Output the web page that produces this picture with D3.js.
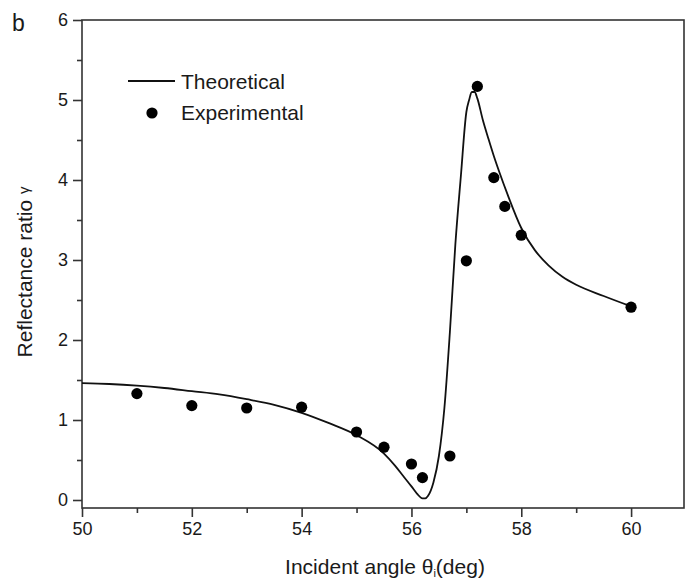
<!DOCTYPE html>
<html>
<head>
<meta charset="utf-8">
<script src="https://cdn.jsdelivr.net/npm/d3@7"></script>
<style>
  body { margin: 0; background: #fff; }
  svg text { font-family: "Liberation Sans", Arial, sans-serif; fill: #1a1a1a; }
</style>
</head>
<body>
<div id="main"></div>
<script>
// theoretical curve
var theoryAngle = [50, 50.5, 51, 51.5, 52, 52.5, 53, 53.5, 54, 54.5, 55, 55.5, 55.7, 55.85, 56.0, 56.1, 56.2, 56.25, 56.3, 56.4, 56.5, 56.6, 56.7, 56.8, 56.9, 57.0, 57.05, 57.1, 57.15, 57.2, 57.3, 57.4, 57.5, 57.6, 57.75, 58.0, 58.25, 58.5, 58.75, 59.0, 59.5, 60.0];
var theoryRatio = [1.46, 1.45, 1.43, 1.40, 1.36, 1.32, 1.26, 1.19, 1.09, 0.96, 0.81, 0.58, 0.43, 0.30, 0.17, 0.08, 0.02, 0.02, 0.05, 0.22, 0.55, 1.15, 2.1, 3.2, 4.05, 4.85, 5.0, 5.1, 5.1, 5.02, 4.75, 4.52, 4.3, 4.1, 3.82, 3.4, 3.12, 2.93, 2.79, 2.69, 2.55, 2.42];

// measured points
var expAngle = [51, 52, 53, 54, 55, 55.5, 56, 56.2, 56.7, 57, 57.2, 57.5, 57.7, 58, 60];
var expRatio = [1.33, 1.18, 1.15, 1.16, 0.85, 0.66, 0.45, 0.28, 0.55, 2.99, 5.17, 4.03, 3.67, 3.31, 2.41];

var xTicks = [50, 52, 54, 56, 58, 60];
var xMinor = [51, 53, 55, 57, 59];
var yTicks = [0, 1, 2, 3, 4, 5, 6];
var yMinor = [0.5, 1.5, 2.5, 3.5, 4.5, 5.5];

var width = 690, height = 582;
var plotLeft = 82, plotRight = 684, plotTop = 20, plotBottom = 508;

var svg = d3.select("#main").append("svg")
    .attr("width", width)
    .attr("height", height);

var x = d3.scaleLinear().domain([50, 61]).range([plotLeft, 686]);
var y = d3.scaleLinear().domain([-0.1, 6]).range([plotBottom, plotTop]);

var axisColor = "#333";

// frame
svg.append("rect")
    .attr("x", plotLeft).attr("y", plotTop)
    .attr("width", plotRight - plotLeft).attr("height", plotBottom - plotTop)
    .attr("fill", "none")
    .attr("stroke", axisColor)
    .attr("stroke-width", 1.6);

// x axis
svg.append("g")
    .attr("transform", "translate(0," + plotBottom + ")")
    .call(d3.axisBottom(x).tickValues(xTicks).tickSize(9).tickPadding(5).tickFormat(d3.format("d")));
svg.append("g")
    .attr("transform", "translate(0," + plotBottom + ")")
    .call(d3.axisBottom(x).tickValues(xMinor).tickSize(5).tickFormat(""));

// y axis
svg.append("g")
    .attr("transform", "translate(" + plotLeft + ",0)")
    .call(d3.axisLeft(y).tickValues(yTicks).tickSize(9).tickPadding(5).tickFormat(d3.format("d")));
svg.append("g")
    .attr("transform", "translate(" + plotLeft + ",0)")
    .call(d3.axisLeft(y).tickValues(yMinor).tickSize(5).tickFormat(""));

svg.selectAll(".domain").remove();
svg.selectAll(".tick line").attr("stroke", axisColor).attr("stroke-width", 1.6);
svg.selectAll(".tick text")
    .style("font-family", "'Liberation Sans', Arial, sans-serif")
    .style("font-size", "18px")
    .attr("fill", "#1a1a1a");

// theory line
var theory = theoryAngle.map(function(a, i) { return [a, theoryRatio[i]]; });
var line = d3.line()
    .x(function(d) { return x(d[0]); })
    .y(function(d) { return y(d[1]); })
    .curve(d3.curveMonotoneX);

svg.append("path")
    .datum(theory)
    .attr("d", line)
    .attr("fill", "none")
    .attr("stroke", "#111")
    .attr("stroke-width", 1.8);

// experimental dots
svg.selectAll(".dot")
    .data(expAngle)
    .enter()
    .append("circle")
    .attr("class", "dot")
    .attr("cx", function(d) { return x(d); })
    .attr("cy", function(d, i) { return y(expRatio[i]); })
    .attr("r", 5.6)
    .attr("fill", "#000");

// legend
svg.append("line")
    .attr("x1", 128).attr("x2", 175)
    .attr("y1", 81).attr("y2", 81)
    .attr("stroke", "#111").attr("stroke-width", 1.8);
svg.append("text")
    .attr("x", 181).attr("y", 89)
    .style("font-size", "21px")
    .text("Theoretical");
svg.append("circle")
    .attr("cx", 152).attr("cy", 113).attr("r", 5.6)
    .attr("fill", "#000");
svg.append("text")
    .attr("x", 181).attr("y", 120)
    .style("font-size", "21px")
    .text("Experimental");

// panel letter
svg.append("text")
    .attr("x", 12).attr("y", 31)
    .style("font-size", "23px")
    .text("b");

// axis titles
var xt = svg.append("text")
    .attr("x", 385).attr("y", 574)
    .attr("text-anchor", "middle")
    .style("font-size", "21px");
xt.append("tspan").text("Incident angle \u03b8");
xt.append("tspan").attr("dy", 3).style("font-size", "11px").text("i");
xt.append("tspan").attr("dy", -3).text("(deg)");

var yt = svg.append("text")
    .attr("transform", "translate(32,272) rotate(-90)")
    .attr("text-anchor", "middle")
    .style("font-size", "21px");
yt.append("tspan").text("Reflectance ratio ");
yt.append("tspan").attr("dy", -3).style("font-size", "15px").text("\u03b3");
</script>
</body>
</html>
